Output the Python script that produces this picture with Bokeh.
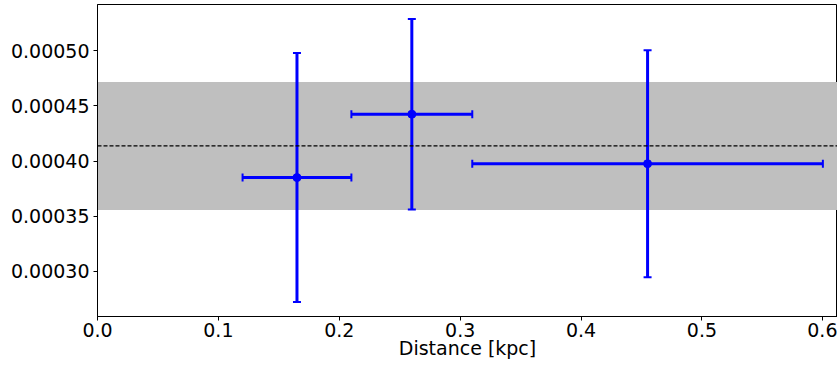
from bokeh.plotting import figure
from bokeh.models import (ColumnDataSource, Whisker, TeeHead, Span, BoxAnnotation,
                          FixedTicker, PrintfTickFormatter, Range1d)
from bokeh.embed import file_html
from bokeh.resources import INLINE

# Data
distance = [0.165, 0.260, 0.455]
dist_lo = [0.120, 0.210, 0.310]
dist_hi = [0.210, 0.310, 0.600]
value = [0.000385, 0.0004425, 0.0003976]
value_err = [0.000113, 0.0000865, 0.000103]
mean_value = 0.0004137
mean_err = 0.0000581
x_ticks = [0.0, 0.1, 0.2, 0.3, 0.4, 0.5, 0.6]
y_ticks = [0.00030, 0.00035, 0.00040, 0.00045, 0.00050]

src = ColumnDataSource(dict(
    x=distance, y=value,
    xlo=dist_lo, xhi=dist_hi,
    ylo=[v - e for v, e in zip(value, value_err)],
    yhi=[v + e for v, e in zip(value, value_err)],
))

FONT = "DejaVu Sans"
BLUE = "#0000ff"

p = figure(frame_width=740, frame_height=312, min_border_left=97, min_border_right=0,
           min_border_top=4, min_border_bottom=0,
           x_range=Range1d(0.0, 0.6121), y_range=Range1d(0.0002589, 0.0005421),
           output_backend="svg", toolbar_location=None)

p.xgrid.visible = False
p.ygrid.visible = False
p.outline_line_color = "black"
p.outline_line_width = 1

p.add_layout(BoxAnnotation(bottom=mean_value - mean_err, top=mean_value + mean_err,
                           fill_color="#bfbfbf", fill_alpha=1.0, line_color=None,
                           level="underlay"))
p.add_layout(Span(location=mean_value, dimension="width", line_color="black",
                  line_width=1.3, line_dash="4 2"))

p.add_layout(Whisker(source=src, base="x", lower="ylo", upper="yhi", dimension="height",
                     line_color=BLUE, line_width=3,
                     lower_head=TeeHead(size=8, line_color=BLUE, line_width=2),
                     upper_head=TeeHead(size=8, line_color=BLUE, line_width=2)))
p.add_layout(Whisker(source=src, base="y", lower="xlo", upper="xhi", dimension="width",
                     line_color=BLUE, line_width=3,
                     lower_head=TeeHead(size=8, line_color=BLUE, line_width=2),
                     upper_head=TeeHead(size=8, line_color=BLUE, line_width=2)))
p.scatter("x", "y", source=src, size=8, color=BLUE)

for ax in (p.xaxis[0], p.yaxis[0]):
    ax.major_label_text_font = FONT
    ax.major_label_text_font_size = "19px"
    ax.major_label_text_color = "black"
    ax.axis_line_color = "black"
    ax.major_tick_line_color = "black"
    ax.major_tick_in = 0
    ax.major_tick_out = 4
    ax.minor_tick_line_color = None

p.xaxis[0].ticker = FixedTicker(ticks=x_ticks)
p.xaxis[0].formatter = PrintfTickFormatter(format="%.1f")
p.xaxis[0].major_label_standoff = 2
p.xaxis[0].axis_label = "Distance [kpc]"
p.xaxis[0].axis_label_text_font = FONT
p.xaxis[0].axis_label_text_font_size = "19px"
p.xaxis[0].axis_label_text_font_style = "normal"
p.xaxis[0].axis_label_text_color = "black"
p.xaxis[0].axis_label_standoff = -3

p.yaxis[0].ticker = FixedTicker(ticks=y_ticks)
p.yaxis[0].formatter = PrintfTickFormatter(format="%.5f")
p.yaxis[0].major_label_standoff = 4

open("out.html", "w").write(file_html(p, INLINE))
